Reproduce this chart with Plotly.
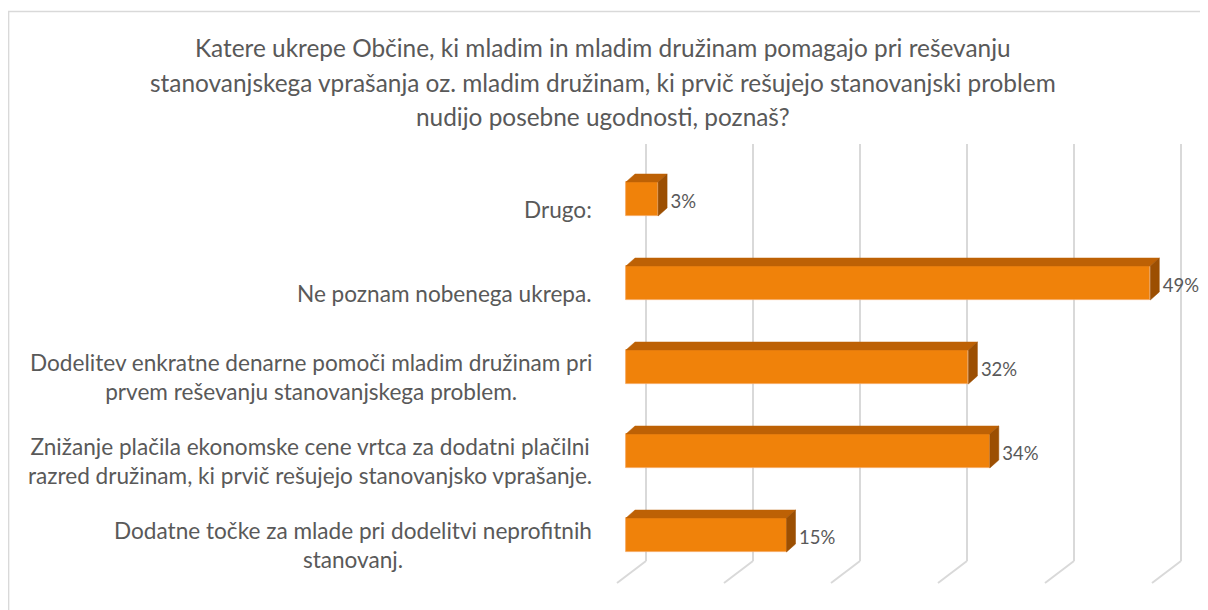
import plotly.graph_objects as go

# ---- data (bottom to top, as drawn) ----
categories = [
    "Dodatne točke za mlade pri dodelitvi neprofitnih<br>stanovanj.",
    "Znižanje plačila ekonomske cene vrtca za dodatni plačilni<br>razred družinam, ki prvič rešujejo stanovanjsko vprašanje.",
    "Dodelitev enkratne denarne pomoči mladim družinam pri<br>prvem reševanju stanovanjskega problem.",
    "Ne poznam nobenega ukrepa.",
    "Drugo:",
]
values = [15, 34, 32, 49, 3]
grid_ticks = [0, 10, 20, 30, 40, 50]
title_lines = [
    "Katere ukrepe Občine, ki mladim in mladim družinam pomagajo pri reševanju",
    "stanovanjskega vprašanja oz. mladim družinam, ki prvič rešujejo stanovanjski problem",
    "nudijo posebne ugodnosti, poznaš?",
]

# ---- style / geometry (page pixels; page body has an 8px margin) ----
OFF = 8
W, H = 1208 - OFF, 610 - OFF
PXX = 10.7          # px per percent
PXY = 84.0          # px per category
X0PX = 626 - OFF    # pixel of 0 on front face
Y0PX = 535 - OFF    # pixel of first category centre
FRONT = "#F0820A"
TOP = "#BD6105"
SIDE = "#9C4F02"
GRID = "#D9D9D9"
TXT = "#595959"
FONT = "Lato"

def ux(px):
    return px / PXX

def py(page_px):  # page pixel y -> data y
    return (Y0PX - (page_px - OFF)) / PXY

xr = [-X0PX / PXX, (W - X0PX) / PXX]
yr = [(Y0PX - H) / PXY, Y0PX / PXY]

idx = list(range(len(values)))
half = 17 / PXY
ddx = ux(9)
ddy = 8 / PXY

fig = go.Figure()

# back-wall grid lines + floor diagonals (drawn below the bars)
back = ux(20)
ytop, ywall, yfloor = py(144), py(561), py(583)
for t in grid_ticks:
    xb = t + back
    fig.add_shape(type="line", x0=xb, x1=xb, y0=ytop, y1=ywall, xref="x", yref="y",
                  line=dict(color=GRID, width=2), layer="below")
    fig.add_shape(type="line", x0=xb, x1=xb - ux(29), y0=ywall, y1=yfloor, xref="x", yref="y",
                  line=dict(color=GRID, width=2), layer="below")

# front faces
fig.add_trace(go.Bar(x=values, y=idx, orientation="h", width=2 * half,
                     marker=dict(color=FRONT, line=dict(color="#F5A65B", width=0.8)),
                     showlegend=False, hoverinfo="skip"))

# top faces
tx, ty = [], []
for v, i in zip(values, idx):
    yt = i + half
    tx += [0, v, v + ddx, ddx, 0, None]
    ty += [yt, yt, yt + ddy, yt + ddy, yt, None]
fig.add_trace(go.Scatter(x=tx, y=ty, fill="toself", fillcolor=TOP, mode="lines",
                         line=dict(color=TOP, width=0.5), hoverinfo="skip", showlegend=False))

# side faces
sx, sy = [], []
for v, i in zip(values, idx):
    sx += [v, v, v + ddx, v + ddx, v, None]
    sy += [i - half, i + half, i + half + ddy, i - half + ddy, i - half, None]
fig.add_trace(go.Scatter(x=sx, y=sy, fill="toself", fillcolor=SIDE, mode="lines",
                         line=dict(color=SIDE, width=0.5), hoverinfo="skip", showlegend=False))

# data labels
fig.add_trace(go.Scatter(x=[v + ddx + ux(3.5) for v in values], y=[i - 4 / PXY for i in idx],
                         mode="text", text=[f"{v}%" for v in values], textposition="middle right",
                         textfont=dict(family=FONT, size=18.5, color=TXT),
                         hoverinfo="skip", showlegend=False))

# category labels
for c, i in zip(categories, idx):
    fig.add_annotation(x=ux(594 - 626), y=i - 10 / PXY, xref="x", yref="y", text=c,
                       showarrow=False, xanchor="right", yanchor="middle", align="center",
                       font=dict(family=FONT, size=22.6, color=TXT))

# title (one annotation per line to keep Excel's line spacing)
for k, line in enumerate(title_lines):
    fig.add_annotation(x=(603 - OFF) / W, y=1 - (48 + 34 * k - OFF) / H, xref="paper", yref="paper",
                       text=line, showarrow=False, xanchor="center", yanchor="middle",
                       font=dict(family=FONT, size=24.4, color=TXT))

# chart border (left & top visible)
fig.add_shape(type="rect", xref="paper", yref="paper", x0=0.6 / W, y0=-0.05, x1=1.05,
              y1=1 - (11.5 - OFF) / H, line=dict(color=GRID, width=1.5), fillcolor="rgba(0,0,0,0)")

fig.update_layout(
    width=W, height=H, margin=dict(l=0, r=0, t=0, b=0),
    paper_bgcolor="white", plot_bgcolor="white",
    xaxis=dict(range=xr, visible=False, fixedrange=True),
    yaxis=dict(range=yr, visible=False, fixedrange=True),
    bargap=0,
)

fig.write_html("out.html")
